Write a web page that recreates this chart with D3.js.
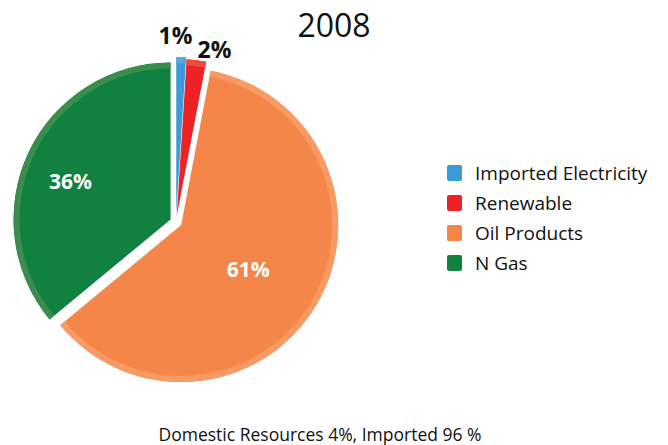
<!DOCTYPE html>
<html>
<head>
<meta charset="utf-8">
<script src="https://cdn.jsdelivr.net/npm/d3@7"></script>
<style>
  body { margin: 0; background: #fff; }
  svg { display: block; font-family: "Open Sans", "Noto Sans", sans-serif; }
</style>
</head>
<body>
<svg id="chart" width="668" height="445"></svg>
<script>
var categories = ["Imported Electricity", "Renewable", "Oil Products", "N Gas"];
var shares = [1, 2, 61, 36];
var shareLabels = ["1%", "2%", "61%", "36%"];
var fillColors = ["#3a9bd8", "#ed2227", "#f5864a", "#108140"];
var rimColors = ["#56a9df", "#ef4a3d", "#f79a63", "#3a8d4e"];
var explode = [8, 6, 6, 6];

var svg = d3.select("#chart");
var cx = 176, cy = 222, r = 157;

var data = categories.map(function(c, i) {
  return {name: c, value: shares[i], label: shareLabels[i], fill: fillColors[i], rim: rimColors[i], off: explode[i]};
});

var pie = d3.pie().sort(null).value(function(d) { return d.value; });
var arcs = pie(data);

var arcFull = d3.arc().innerRadius(0).outerRadius(r);
var arcRim = d3.arc().innerRadius(r - 6).outerRadius(r);

var g = svg.append("g").attr("transform", "translate(" + cx + "," + cy + ")");

var slices = g.selectAll("g.slice")
  .data(arcs)
  .enter()
  .append("g")
  .attr("class", "slice")
  .attr("transform", function(d) {
    var a = (d.startAngle + d.endAngle) / 2;
    return "translate(" + (Math.sin(a) * d.data.off) + "," + (-Math.cos(a) * d.data.off) + ")";
  });

slices.append("path")
  .attr("d", arcFull)
  .attr("fill", function(d) { return d.data.fill; });

slices.append("path")
  .attr("d", arcRim)
  .attr("fill", function(d) { return d.data.rim; });

// labels inside big slices
slices.filter(function(d) { return d.data.value > 10; })
  .append("text")
  .attr("x", function(d) { return d.data.name === "N Gas" ? -100 : 67; })
  .attr("y", function(d) { return d.data.name === "N Gas" ? -30 : 52; })
  .attr("text-anchor", "middle")
  .attr("fill", "#fff")
  .attr("font-weight", "bold")
  .attr("font-size", 21)
  .text(function(d) { return d.data.label; });

// labels outside small slices
var smallPos = {"Imported Electricity": [-0.5, -178], "Renewable": [38.5, -164]};
g.selectAll("text.small")
  .data(arcs.filter(function(d) { return d.data.value < 10; }))
  .enter()
  .append("text")
  .attr("class", "small")
  .attr("x", function(d) { return smallPos[d.data.name][0]; })
  .attr("y", function(d) { return smallPos[d.data.name][1]; })
  .attr("text-anchor", "middle")
  .attr("fill", "#111")
  .attr("font-weight", "bold")
  .attr("font-size", 23)
  .text(function(d) { return d.data.label; });

// title
svg.append("text")
  .attr("x", 334).attr("y", 37)
  .attr("text-anchor", "middle")
  .attr("font-size", 32)
  .attr("fill", "#111")
  .text("2008");

// legend
var legend = svg.append("g").attr("transform", "translate(447,173)");
var rows = legend.selectAll("g").data(data).enter().append("g")
  .attr("transform", function(d, i) { return "translate(0," + (i * 30) + ")"; });
rows.append("rect")
  .attr("x", 0).attr("y", -8)
  .attr("width", 15).attr("height", 16)
  .attr("rx", 2)
  .attr("fill", function(d) { return d.fill; });
rows.append("text")
  .attr("x", 28).attr("y", 6.5)
  .attr("font-size", 19)
  .attr("fill", "#111")
  .text(function(d) { return d.name; });

// footnote
svg.append("text")
  .attr("x", 320).attr("y", 441)
  .attr("text-anchor", "middle")
  .attr("font-size", 17.5)
  .attr("fill", "#111")
  .text("Domestic Resources 4%, Imported 96 %");
</script>
</body>
</html>
